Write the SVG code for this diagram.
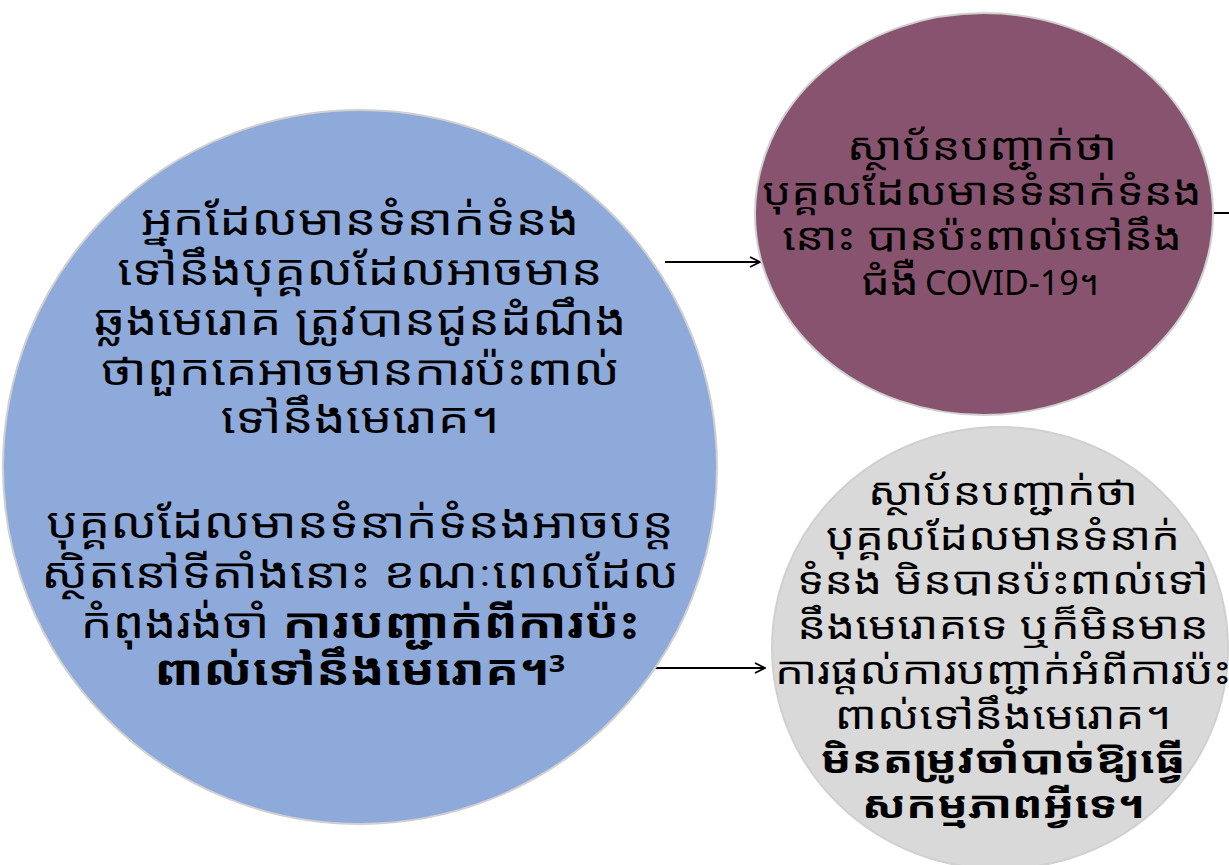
<svg xmlns="http://www.w3.org/2000/svg" width="1229" height="865" viewBox="0 0 1229 865">
<defs>
<style>
.t{font-family:"Noto Sans Khmer","Khmer OS","Noto Sans","DejaVu Sans",sans-serif;fill:#000;text-anchor:middle}
.b{font-size:42px}
.s{font-size:38px}
.lat{font-family:"Noto Sans","Open Sans",sans-serif;font-size:34px;fill:#000}
.bold{font-weight:bold}
.node{stroke:#d0d0d0;stroke-width:2}
.conn{stroke:#000;stroke-width:2;fill:none}
</style>
<marker id="arr" viewBox="0 0 12 12" refX="11" refY="6" markerWidth="12" markerHeight="12" markerUnits="userSpaceOnUse" orient="auto">
<path d="M1,1 L11,6 L1,11" fill="none" stroke="#000" stroke-width="1.8"/>
</marker>
</defs>
<rect width="1229" height="865" fill="#fff"/>
<g id="connectors">
<line class="conn" x1="665" y1="262" x2="760" y2="262" marker-end="url(#arr)"/>
<line class="conn" x1="637" y1="668" x2="765" y2="668" marker-end="url(#arr)"/>
<line class="conn" x1="1212" y1="213" x2="1229" y2="213"/>
</g>
<g id="node-left">
<ellipse class="node" cx="360" cy="467" rx="357" ry="357" fill="#8EAADB"/>
<text class="t b" transform="translate(360,235) scale(1.2,1)">អ្នកដែលមានទំនាក់ទំនង</text>
<text class="t b" transform="translate(360,285) scale(1.2,1)">ទៅនឹងបុគ្គលដែលអាចមាន</text>
<text class="t b" transform="translate(360,335) scale(1.2,1)">ឆ្លងមេរោគ ត្រូវបានជូនដំណឹង</text>
<text class="t b" transform="translate(360,385) scale(1.2,1)">ថាពួកគេអាចមានការប៉ះពាល់</text>
<text class="t b" transform="translate(360,433) scale(1.2,1)">ទៅនឹងមេរោគ។</text>
<text class="t b" transform="translate(360,538) scale(1.2,1)">បុគ្គលដែលមានទំនាក់ទំនងអាចបន្ត</text>
<text class="t b" transform="translate(360,588) scale(1.2,1)">ស្ថិតនៅទីតាំងនោះ ខណៈពេលដែល</text>
<text class="t b" transform="translate(360,638) scale(1.2,1)">កំពុងរង់ចាំ <tspan class="bold">ការបញ្ជាក់ពីការប៉ះ</tspan></text>
<text class="t b bold" transform="translate(360,685) scale(1.2,1)">ពាល់ទៅនឹងមេរោគ។<tspan font-size="24" dy="-13">3</tspan></text>
</g>
<g id="node-top">
<ellipse class="node" cx="984" cy="214" rx="229" ry="201" fill="#87536F"/>
<text class="t s" transform="translate(982,160) scale(1.2,1)">ស្ថាប័នបញ្ជាក់ថា</text>
<text class="t s" transform="translate(982,205) scale(1.2,1)">បុគ្គលដែលមានទំនាក់ទំនង</text>
<text class="t s" transform="translate(982,250) scale(1.2,1)">នោះ បានប៉ះពាល់ទៅនឹង</text>
<text class="t s" transform="translate(890,295) scale(1.2,1)">ជំងឺ</text>
<text class="lat" x="925" y="295">COVID-19<tspan font-family="Noto Sans Khmer, sans-serif">។</tspan></text>
</g>
<g id="node-bottom">
<ellipse class="node" cx="1000" cy="648" rx="228" ry="221" fill="#D9D9D9"/>
<text class="t s" transform="translate(1003,505) scale(1.2,1)">ស្ថាប័នបញ្ជាក់ថា</text>
<text class="t s" transform="translate(1003,550) scale(1.2,1)">បុគ្គលដែលមានទំនាក់</text>
<text class="t s" transform="translate(1003,594) scale(1.2,1)">ទំនង មិនបានប៉ះពាល់ទៅ</text>
<text class="t s" transform="translate(1003,639) scale(1.2,1)">នឹងមេរោគទេ ឬក៏មិនមាន</text>
<text class="t s" transform="translate(1003,684) scale(1.2,1)">ការផ្ដល់ការបញ្ជាក់អំពីការប៉ះ</text>
<text class="t s" transform="translate(1003,729) scale(1.2,1)">ពាល់ទៅនឹងមេរោគ។</text>
<text class="t s bold" transform="translate(1003,773) scale(1.2,1)">មិនតម្រូវចាំបាច់ឱ្យធ្វើ</text>
<text class="t s bold" transform="translate(1003,818) scale(1.2,1)">សកម្មភាពអ្វីទេ។</text>
</g>
</svg>
